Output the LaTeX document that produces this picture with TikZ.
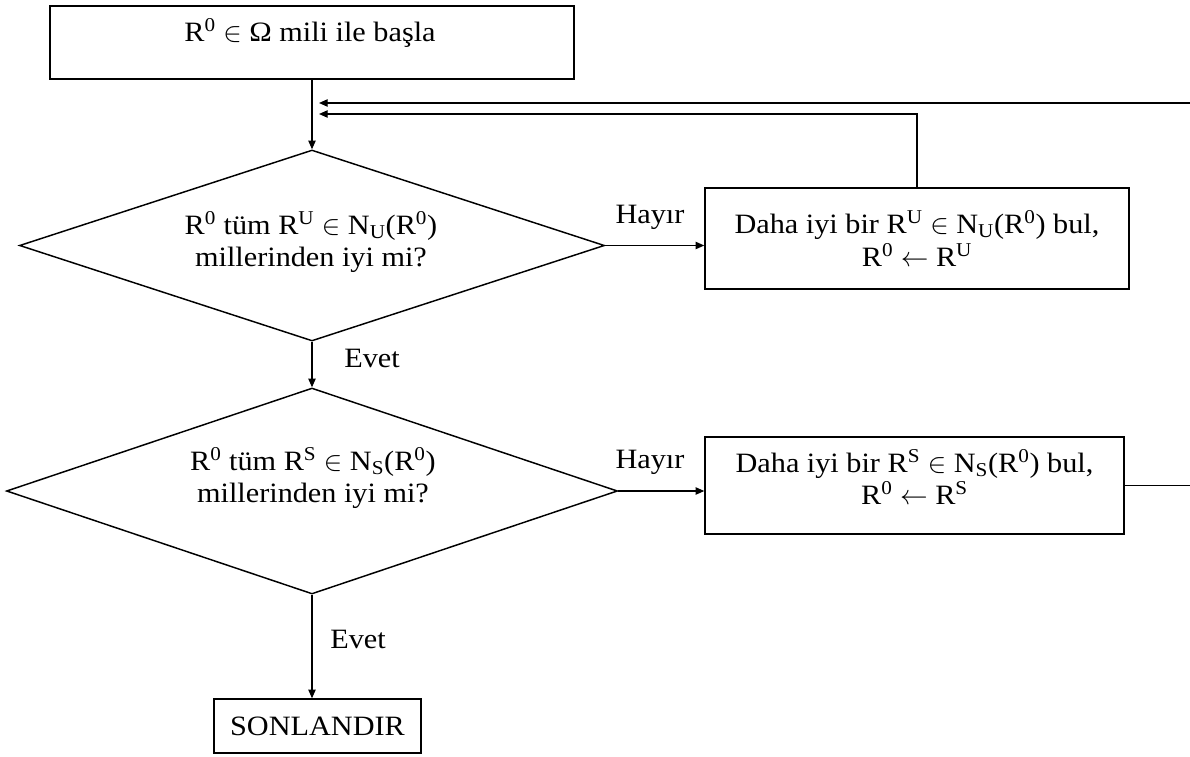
\documentclass[tikz,border=0pt]{standalone}
\usepackage{fontspec}
\setmainfont{Liberation Serif}[FakeStretch=1.08]
\usetikzlibrary{shapes.geometric,arrows.meta}
\newcommand{\sps}[1]{\textsuperscript{#1}}
\newcommand{\sbs}[1]{\textsubscript{#1}}
\begin{document}
\begin{tikzpicture}[x=0.75pt,y=-0.75pt,
  every node/.style={font=\fontsize{21pt}{24.5pt}\selectfont},
  box/.style={draw,line width=1.1pt,inner sep=0pt,align=center},
  dia/.style={draw,diamond,line width=1.1pt,inner sep=0pt},
  conn/.style={line width=1pt},
  arr/.style={conn,-{Triangle[length=6.5pt,width=5.5pt]}},
  lbl/.style={inner sep=0pt,align=center}]
\useasboundingbox (0,0) rectangle (1190,757);
\fill[white] (0,0) rectangle (1190,757);
% start
\node[box,minimum width=393pt,minimum height=54.75pt] (start) at (312,42.5) {};
\node[lbl] (startt) at (310,33) {R\sps{0} $\in$ Ω mili ile başla};
% decision 1
\node[dia,minimum width=438.75pt,minimum height=143.25pt] (d1) at (312,245.5) {};
\node[lbl] (d1t) at (311,242) {R\sps{0} tüm R\sps{U} $\in$ N\sbs{U}(R\sps{0})\\millerinden iyi mi?};
% box 1
\node[box,minimum width=318pt,minimum height=75.75pt] (b1) at (917,238.5)
  {Daha iyi bir R\sps{U} $\in$ N\sbs{U}(R\sps{0}) bul,\\R\sps{0} $\leftarrow$ R\sps{U}};
% decision 2
\node[dia,minimum width=458.25pt,minimum height=154.5pt] (d2) at (312,491) {};
\node[lbl] (d2t) at (313,478) {R\sps{0} tüm R\sps{S} $\in$ N\sbs{S}(R\sps{0})\\millerinden iyi mi?};
% box 2
\node[box,minimum width=314.25pt,minimum height=72.75pt] (b2) at (914.5,485.5) {};
\node[lbl] (b2t) at (914.5,477)
  {Daha iyi bir R\sps{S} $\in$ N\sbs{S}(R\sps{0}) bul,\\R\sps{0} $\leftarrow$ R\sps{S}};
% end
\node[box,minimum width=155.25pt,minimum height=40.5pt] (end) at (317.5,726) {SONLANDIR};
% labels
\node[lbl] (e1) at (372,358) {Evet};
\node[lbl] (e2) at (358,639) {Evet};
\node[lbl] (h1) at (650,217) {Hayır};
\node[lbl] (h2) at (650,462) {Hayır};
% connectors
\coordinate (m1) at (319,114);
\coordinate (m2) at (319,103);
\draw[arr] (start.south) -- (d1.north);
\draw[arr] (d1.south) -- (d2.north);
\draw[arr] (d2.south) -- (d2.south |- end.north);
\draw[arr] (d1.east) -- (b1.west |- d1.east);
\draw[arr] (d2.east) -- (b2.west |- d2.east);
\draw[arr] (b1.north) |- (m1);
\draw[arr] (b2.east) -- ++(80,0) |- (m2);
\end{tikzpicture}
\end{document}
